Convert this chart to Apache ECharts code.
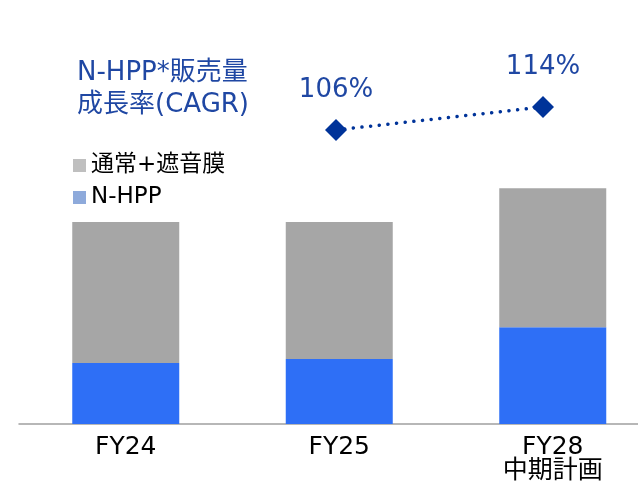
<!DOCTYPE html>
<html>
<head>
<meta charset="utf-8">
<script src="https://cdn.jsdelivr.net/npm/echarts@6/dist/echarts.min.js"></script>
<style>
  html, body { margin: 0; padding: 0; background: #fff; }
  #chart { width: 638px; height: 481px; }
</style>
</head>
<body>
<div id="chart"></div>
<script>
// データ
const categories = ["FY24", "FY25", "FY28\n中期計画"]
const nhppValues = [15.9, 16.9, 25.2]
const normalValues = [36.7, 35.7, 36.2]
const cagrValues = [null, 106, 114]

const fontFamily = "'DejaVu Sans', 'Noto Sans CJK JP', sans-serif"
const blueBar = "#2e6ff6"
const greyBar = "#a6a6a6"
const darkBlue = "#003399"

const chart = echarts.init(document.getElementById("chart"), null, { renderer: "canvas" })

const option = {
  backgroundColor: "#ffffff",
  animation: false,
  title: {
    text: "N-HPP*販売量\n成長率(CAGR)",
    left: 77,
    top: 57,
    padding: 0,
    textStyle: {
      color: "#1f47a3",
      fontSize: 26,
      fontWeight: "normal",
      lineHeight: 32,
      fontFamily: fontFamily
    }
  },
  legend: {
    orient: "vertical",
    left: 73,
    top: 154,
    padding: 0,
    icon: "rect",
    itemWidth: 13,
    itemHeight: 13,
    itemGap: 9,
    textStyle: {
      color: "#000",
      fontSize: 23,
      fontFamily: fontFamily
    },
    data: [
      { name: "通常+遮音膜", itemStyle: { color: "#bfbfbf" } },
      { name: "N-HPP", itemStyle: { color: "#8eaadb" } }
    ]
  },
  grid: [
    { left: 19, width: 640.5, top: 40, bottom: 57, outerBoundsMode: "none", containLabel: false },
    { left: 25.5, width: 621, top: 40, bottom: 57, outerBoundsMode: "none", containLabel: false }
  ],
  xAxis: [
    {
      type: "category",
      gridIndex: 0,
      data: categories,
      axisLine: { show: true, lineStyle: { color: "#a0a0a0", width: 1.5 } },
      axisTick: { show: false },
      axisLabel: {
        color: "#000",
        fontSize: 25,
        lineHeight: 24,
        margin: 11,
        interval: 0,
        fontFamily: fontFamily
      }
    },
    {
      type: "category",
      gridIndex: 1,
      data: categories,
      show: false
    }
  ],
  yAxis: [
    {
      type: "value",
      gridIndex: 0,
      min: 0,
      max: 100,
      show: false
    },
    {
      type: "value",
      gridIndex: 1,
      min: 3.74,
      max: 137.3,
      show: false
    }
  ],
  series: [
    {
      name: "N-HPP",
      type: "bar",
      stack: "total",
      barWidth: 107,
      xAxisIndex: 0,
      yAxisIndex: 0,
      itemStyle: { color: blueBar },
      data: nhppValues
    },
    {
      name: "通常+遮音膜",
      type: "bar",
      stack: "total",
      barWidth: 107,
      xAxisIndex: 0,
      yAxisIndex: 0,
      itemStyle: { color: greyBar },
      data: normalValues
    },
    {
      name: "CAGR",
      type: "line",
      xAxisIndex: 1,
      yAxisIndex: 1,
      symbol: "diamond",
      symbolSize: 22,
      itemStyle: { color: darkBlue },
      lineStyle: { color: darkBlue, width: 3.5, type: [0.1, 8.6], cap: "round" },
      label: {
        show: true,
        position: "top",
        distance: 16,
        color: "#1f47a3",
        fontSize: 26,
        fontFamily: fontFamily,
        formatter: (p) => p.value + "%"
      },
      data: cagrValues
    }
  ]
}

chart.setOption(option)
</script>
</body>
</html>
